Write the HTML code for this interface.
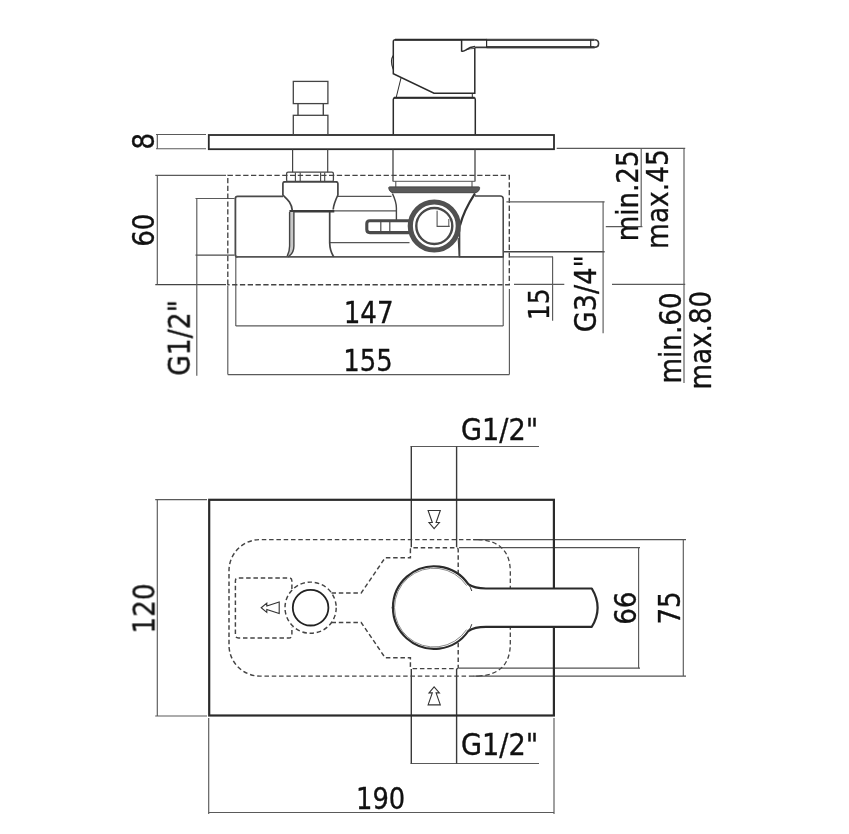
<!DOCTYPE html>
<html lang="en">
<head>
<meta charset="utf-8">
<title>Technical drawing</title>
<style>
html,body{margin:0;padding:0;background:#fff;}
body{width:849px;height:834px;overflow:hidden;}
svg{display:block;}
svg text{font-family:'DejaVu Sans','Liberation Sans',sans-serif;fill:#111;stroke:#111;stroke-width:0.35px;}
.t{opacity:0.999;}
</style>
</head>
<body>
<svg width="849" height="834" viewBox="0 0 849 834">
<rect x="0" y="0" width="849" height="834" fill="#ffffff"/>
<line x1="156" y1="134.5" x2="206" y2="134.5" stroke="#5a5a5a" stroke-width="1.15" />
<line x1="156" y1="148.7" x2="206" y2="148.7" stroke="#5a5a5a" stroke-width="1.15" />
<line x1="157.3" y1="134.5" x2="157.3" y2="148.7" stroke="#5a5a5a" stroke-width="1.15" />
<line x1="155.3" y1="175.3" x2="226" y2="175.3" stroke="#5a5a5a" stroke-width="1.15" />
<line x1="155.3" y1="284.6" x2="226" y2="284.6" stroke="#444" stroke-width="1.2" />
<line x1="157.3" y1="175.3" x2="157.3" y2="284.6" stroke="#5a5a5a" stroke-width="1.15" />
<line x1="195.5" y1="198.5" x2="234.6" y2="198.5" stroke="#5a5a5a" stroke-width="1.15" />
<line x1="195.5" y1="255.2" x2="234.6" y2="255.2" stroke="#4a4a4a" stroke-width="1.3" />
<line x1="196.8" y1="198.5" x2="196.8" y2="375.8" stroke="#5a5a5a" stroke-width="1.15" />
<line x1="235.8" y1="257" x2="235.8" y2="325.9" stroke="#5a5a5a" stroke-width="1.15" />
<line x1="235.8" y1="325.9" x2="503.2" y2="325.9" stroke="#5a5a5a" stroke-width="1.15" />
<line x1="503.2" y1="257" x2="503.2" y2="325.9" stroke="#5a5a5a" stroke-width="1.15" />
<line x1="227.8" y1="286" x2="227.8" y2="374.6" stroke="#5a5a5a" stroke-width="1.15" />
<line x1="227.8" y1="374.6" x2="509.4" y2="374.6" stroke="#5a5a5a" stroke-width="1.15" />
<line x1="509.4" y1="289" x2="509.4" y2="374.6" stroke="#5a5a5a" stroke-width="1.15" />
<path d="M227.8 284.7 V175.3 H509.3 V284.7 Z" stroke="#444" stroke-width="1.35" fill="none" stroke-dasharray="5.3 2.5"/>
<line x1="556.7" y1="148.3" x2="685.2" y2="148.3" stroke="#5a5a5a" stroke-width="1.15" />
<line x1="641.2" y1="148.3" x2="641.2" y2="227" stroke="#5a5a5a" stroke-width="1.15" />
<line x1="684" y1="148.3" x2="684" y2="383" stroke="#5a5a5a" stroke-width="1.15" />
<line x1="605.8" y1="226.6" x2="642.4" y2="226.6" stroke="#5a5a5a" stroke-width="1.15" />
<line x1="506.4" y1="201.8" x2="604.6" y2="201.8" stroke="#5a5a5a" stroke-width="1.15" />
<line x1="504" y1="251.8" x2="604.6" y2="251.8" stroke="#444" stroke-width="1.4" />
<line x1="603.1" y1="201.8" x2="603.1" y2="333.2" stroke="#5a5a5a" stroke-width="1.15" />
<line x1="510" y1="256.8" x2="553" y2="256.8" stroke="#5a5a5a" stroke-width="1.15" />
<line x1="552.6" y1="256.8" x2="552.6" y2="320.7" stroke="#5a5a5a" stroke-width="1.15" />
<line x1="514" y1="284.3" x2="564.3" y2="284.3" stroke="#5a5a5a" stroke-width="1.15" />
<line x1="612" y1="284.3" x2="685.2" y2="284.3" stroke="#5a5a5a" stroke-width="1.15" />
<path d="M283 196.3 H237.6 Q235.4 196.3 235.4 198.5 V254.7 Q235.4 256.9 237.6 256.9" stroke="#4a4a4a" stroke-width="1.8" fill="none" />
<line x1="338" y1="196.3" x2="391.5" y2="196.3" stroke="#555" stroke-width="1.3" />
<line x1="334" y1="210.8" x2="396.4" y2="210.8" stroke="#555" stroke-width="1.3" />
<line x1="330" y1="242.6" x2="409.5" y2="242.6" stroke="#555" stroke-width="1.2" />
<line x1="236" y1="256.9" x2="503.3" y2="256.9" stroke="#555" stroke-width="1.6" />
<rect x="208.8" y="135" width="345.2" height="14.2" rx="0" stroke="#2b2b2b" stroke-width="1.8" fill="none" />
<rect x="293.3" y="81.4" width="34.6" height="22.2" rx="0" stroke="#444" stroke-width="1.3" fill="none" />
<line x1="298.0" y1="103.6" x2="298.0" y2="115.2" stroke="#444" stroke-width="1.4" />
<line x1="323.3" y1="103.6" x2="323.3" y2="115.2" stroke="#444" stroke-width="1.4" />
<rect x="293.3" y="115.3" width="34.6" height="19.5" rx="0" stroke="#444" stroke-width="1.3" fill="none" />
<line x1="292.6" y1="149.5" x2="292.6" y2="172.2" stroke="#444" stroke-width="1.2" />
<line x1="327.7" y1="149.5" x2="327.7" y2="172.2" stroke="#444" stroke-width="1.2" />
<rect x="286.6" y="172.2" width="46.8" height="9.2" rx="1.5" stroke="#444" stroke-width="1.3" fill="none" />
<line x1="295.4" y1="172.4" x2="295.4" y2="181.2" stroke="#444" stroke-width="1.1" />
<line x1="300.2" y1="172.4" x2="300.2" y2="181.2" stroke="#444" stroke-width="1.1" />
<line x1="320.6" y1="172.4" x2="320.6" y2="181.2" stroke="#444" stroke-width="1.1" />
<line x1="324.7" y1="172.4" x2="324.7" y2="181.2" stroke="#444" stroke-width="1.1" />
<path d="M284.4 181.8 Q282.9 181.9 282.9 183.5 V195 C287 199 291.6 202.5 292.3 210.5" stroke="#444" stroke-width="1.7" fill="none" />
<path d="M336.3 181.8 Q337.9 181.9 337.9 183.5 V195 C335.5 200 333.6 204.5 333.2 209.5" stroke="#444" stroke-width="1.7" fill="none" />
<line x1="283.5" y1="181.8" x2="337.3" y2="181.8" stroke="#444" stroke-width="1.7" />
<line x1="289.4" y1="211.2" x2="334.3" y2="211.2" stroke="#3a3a3a" stroke-width="2.6" />
<path d="M289.6 212 V246 C289.6 251 288.5 254 286.8 256.8 L288 256.8 C292 254.5 293.9 251 293.9 246 V212 Z" stroke="none" stroke-width="0" fill="#c8c8c8" />
<path d="M289.6 212 V246 C289.6 251 288.5 254 286.8 256.8" stroke="#444" stroke-width="1.4" fill="none" />
<path d="M293.9 212 V246 C293.9 251 292 254.5 288 256.8" stroke="#444" stroke-width="1.4" fill="none" />
<path d="M329.7 212 V243 C329.9 250 331.5 253.5 333.8 256.8" stroke="#444" stroke-width="1.7" fill="none" />
<path d="M474.8 47.8 V93.2 H434 L393.3 73.8 V41.6 Q393.3 39.7 395.3 39.7 H461.5" stroke="#2b2b2b" stroke-width="1.5" fill="none" />
<path d="M395 39.8 H487" stroke="#2b2b2b" stroke-width="2.0" fill="none" />
<path d="M486.6 39.9 H594.5" stroke="#484848" stroke-width="2.4" fill="none" />
<path d="M486.6 47.1 H594.5" stroke="#484848" stroke-width="2.4" fill="none" />
<path d="M461.6 39.8 V51 Q463.5 51.6 466 49.8 Q470 46.6 475 46.4" stroke="#2b2b2b" stroke-width="1.5" fill="none" />
<path d="M466 49.8 Q470 48.5 474.8 48.4" stroke="#2b2b2b" stroke-width="0.8" fill="none" />
<path d="M474.8 47.4 H594.5 Q598.6 47.4 598.6 43.6 Q598.6 39.8 594.5 39.8" stroke="#3a3a3a" stroke-width="1.6" fill="none" />
<line x1="486.6" y1="39.8" x2="486.6" y2="47.4" stroke="#2b2b2b" stroke-width="1.2" />
<line x1="590.7" y1="39.8" x2="590.7" y2="47.4" stroke="#2b2b2b" stroke-width="1.2" />
<path d="M393.2 55.6 Q389.6 60.5 393.2 69.2" stroke="#2b2b2b" stroke-width="1.1" fill="none" />
<line x1="401" y1="78" x2="396.3" y2="97" stroke="#2b2b2b" stroke-width="1.0" />
<line x1="472.3" y1="93.2" x2="472.3" y2="97.5" stroke="#2b2b2b" stroke-width="1.0" />
<path d="M393.3 134.5 V99.5 Q393.3 97.8 395 97.8 H473.6 Q475.3 97.8 475.3 99.5 V134.5" stroke="#2b2b2b" stroke-width="1.5" fill="none" />
<line x1="394" y1="97.8" x2="474.6" y2="97.8" stroke="#2b2b2b" stroke-width="2.0" />
<line x1="393.0" y1="149.6" x2="393.0" y2="181.4" stroke="#444" stroke-width="1.3" />
<line x1="475.0" y1="149.6" x2="475.0" y2="181.4" stroke="#444" stroke-width="1.3" />
<line x1="393.0" y1="181.4" x2="475.0" y2="181.4" stroke="#777" stroke-width="1.2" />
<line x1="395.8" y1="181.4" x2="395.8" y2="187" stroke="#444" stroke-width="1.0" />
<line x1="472.0" y1="181.4" x2="472.0" y2="187" stroke="#444" stroke-width="1.0" />
<path d="M389.6 186.9 H478.8 Q480 186.9 479.6 188.4 Q478.6 192.7 474.6 192.7 H393.6 Q389.8 192.7 388.8 188.4 Q388.4 186.9 389.6 186.9 Z" stroke="#444" stroke-width="1.0" fill="#5a5a5a" />
<path d="M392.4 193.5 C394.5 198 396.4 202 396.4 208 V220" stroke="#444" stroke-width="1.4" fill="none" />
<path d="M475 193.3 Q463.5 211 460 225.5" stroke="#333" stroke-width="2.2" fill="none" />
<path d="M409.5 220.8 H369.8 Q366.8 220.8 366.8 223.8 V229.6 Q366.8 232.6 369.8 232.6 H409.5" stroke="#4a4a4a" stroke-width="3.1" fill="none" />
<line x1="380.8" y1="220.5" x2="380.8" y2="233" stroke="#4a4a4a" stroke-width="1.2" />
<line x1="389.8" y1="220.5" x2="389.8" y2="233" stroke="#4a4a4a" stroke-width="1.2" />
<path d="M475 195.9 H500.2 Q503.2 195.9 503.2 198.9 V256.7 H459.6 V225.5" stroke="#444" stroke-width="1.5" fill="none" />
<line x1="458.2" y1="238" x2="459.2" y2="256.5" stroke="#444" stroke-width="1.2" />
<circle cx="434.3" cy="226" r="24.0" stroke="#505050" stroke-width="5.2" fill="#fff" />
<circle cx="434.3" cy="226" r="18.0" stroke="#484848" stroke-width="2.4" fill="none" />
<path d="M437.1 210.8 V226.4 H449.7" stroke="#555" stroke-width="1.1" fill="none" />
<line x1="448.8" y1="219" x2="448.8" y2="226.4" stroke="#555" stroke-width="1.0" />
<line x1="155.2" y1="499.6" x2="207" y2="499.6" stroke="#5a5a5a" stroke-width="1.15" />
<line x1="155.2" y1="716.0" x2="207" y2="716.0" stroke="#5a5a5a" stroke-width="1.15" />
<line x1="157.3" y1="499.6" x2="157.3" y2="716.0" stroke="#5a5a5a" stroke-width="1.15" />
<line x1="208.7" y1="718" x2="208.7" y2="814" stroke="#5a5a5a" stroke-width="1.15" />
<line x1="554" y1="718" x2="554" y2="814" stroke="#5a5a5a" stroke-width="1.15" />
<line x1="208.7" y1="812.5" x2="554" y2="812.5" stroke="#5a5a5a" stroke-width="1.15" />
<line x1="410.5" y1="446.5" x2="539" y2="446.5" stroke="#5a5a5a" stroke-width="1.15" />
<line x1="410.5" y1="763.5" x2="539" y2="763.5" stroke="#5a5a5a" stroke-width="1.15" />
<line x1="411.3" y1="446.5" x2="411.3" y2="547.2" stroke="#3a3a3a" stroke-width="1.4" />
<line x1="411.3" y1="669" x2="411.3" y2="763.5" stroke="#3a3a3a" stroke-width="1.4" />
<line x1="456.6" y1="446.5" x2="456.6" y2="547.2" stroke="#3a3a3a" stroke-width="1.4" />
<line x1="456.6" y1="669" x2="456.6" y2="763.5" stroke="#3a3a3a" stroke-width="1.4" />
<line x1="473" y1="539.6" x2="686" y2="539.6" stroke="#525252" stroke-width="1.25" />
<line x1="473" y1="676.1" x2="686" y2="676.1" stroke="#525252" stroke-width="1.25" />
<line x1="459" y1="547.5" x2="640" y2="547.5" stroke="#525252" stroke-width="1.25" />
<line x1="459" y1="668.2" x2="640" y2="668.2" stroke="#525252" stroke-width="1.25" />
<line x1="638.6" y1="547.3" x2="638.6" y2="668.2" stroke="#5a5a5a" stroke-width="1.15" />
<line x1="683.3" y1="539.6" x2="683.3" y2="676.1" stroke="#5a5a5a" stroke-width="1.15" />
<rect x="209.2" y="499.8" width="344.7" height="215.7" rx="0" stroke="#2a2a2a" stroke-width="2.2" fill="none" />
<path d="M478 539.6 H260 A31 31 0 0 0 229 570.6 V645.1 A31 31 0 0 0 260 676.1 H478" stroke="#444" stroke-width="1.45" fill="none" stroke-dasharray="4.5 2.8"/>
<path d="M478 539.6 Q510.3 541 510.3 572 V590" stroke="#444" stroke-width="1.3" fill="none" stroke-dasharray="4.5 2.8"/>
<path d="M478 676.1 Q510.3 674.5 510.3 643.5 V626" stroke="#444" stroke-width="1.3" fill="none" stroke-dasharray="4.5 2.8"/>
<path d="M291.9 589 V580.9 Q291.9 577.9 288.9 577.9 H238.4 Q235.4 577.9 235.4 580.9 V634.9 Q235.4 637.9 238.4 637.9 H288.9 Q291.9 637.9 291.9 634.9 V627" stroke="#444" stroke-width="1.45" fill="none" stroke-dasharray="4.5 2.8"/>
<circle cx="310.6" cy="607.7" r="25.6" stroke="#444" stroke-width="1.45" fill="none" stroke-dasharray="4.5 2.8"/>
<circle cx="310.6" cy="607.7" r="17.8" stroke="#222" stroke-width="1.8" fill="none" />
<path d="M331.5 593 H361.2 L385.1 557.8 H410.4 V549.7 Q410.4 547.7 412.4 547.7 H456.2 Q458.2 547.7 458.2 549.7 V668.6" stroke="#444" stroke-width="1.45" fill="none" stroke-dasharray="4.5 2.8"/>
<path d="M331.5 622.5 H361.2 L385.1 657.7 H410.4 V666.6 Q410.4 668.6 412.4 668.6 H458.2" stroke="#444" stroke-width="1.45" fill="none" stroke-dasharray="4.5 2.8"/>
<path d="M591.8 588.5 H486 C478 588.5 473 587.6 468.3 584.2 A41.3 41.3 0 1 0 468.3 631.0 C473 627.7 478 626.8 486 626.8 H591.8 Q603.4 607.7 591.8 588.5 Z" stroke="#2a2a2a" stroke-width="2.2" fill="#fff" stroke-linejoin="round"/>
<path d="M466.6 585.6 A39.4 39.4 0 1 0 466.6 629.6" stroke="#8a8a8a" stroke-width="1.0" fill="none" />
<path d="M468.3 584.2 Q470.6 587 471.8 591" stroke="#333" stroke-width="1.0" fill="none" />
<path d="M468.3 631.0 Q470.6 628.2 471.8 624.2" stroke="#333" stroke-width="1.0" fill="none" />
<path d="M393.2 603.5 Q391.2 607.7 393.2 611.9" stroke="#333" stroke-width="1.0" fill="none" />
<path d="M261.2 607.7 L266.8 603.1 V605.9 L279.2 602.0 V613.4 L266.8 609.5 V612.3 Z" stroke="#333" stroke-width="1.1" fill="none" />
<path d="M434.1 528.6 L429 522.5 H432.3 L428.1 510.5 H440.3 L436.1 522.5 H439.4 Z" stroke="#333" stroke-width="1.1" fill="none" />
<path d="M434.1 686.8 L429 692.9 H432.3 L428.1 704.9 H440.3 L436.1 692.9 H439.4 Z" stroke="#333" stroke-width="1.1" fill="none" />
<g class="t">
<text transform="translate(153.8 149.6) rotate(-90) scale(0.8586 1)" font-size="30.5" text-anchor="start">8</text>
<text transform="translate(153.8 246.8) rotate(-90) scale(0.8586 1)" font-size="30.5" text-anchor="start">60</text>
<text transform="translate(189.7 375.9) rotate(-90) scale(0.8764 1)" font-size="30.5" text-anchor="start">G1/2"</text>
<text transform="translate(343.7 323.0) scale(0.8586 1)" font-size="30.5" text-anchor="start">147</text>
<text transform="translate(343.3 370.7) scale(0.8505 1)" font-size="30.5" text-anchor="start">155</text>
<text transform="translate(549.2 320.0) rotate(-90) scale(0.8586 1)" font-size="29" text-anchor="start">15</text>
<text transform="translate(595.8 332.2) rotate(-90) scale(0.8902 1)" font-size="30.5" text-anchor="start">G3/4"</text>
<text transform="translate(638.0 241.3) rotate(-90) scale(0.8586 1)" font-size="30.5" text-anchor="start">min.25</text>
<text transform="translate(668.4 248.9) rotate(-90) scale(0.8685 1)" font-size="30.5" text-anchor="start">max.45</text>
<text transform="translate(680.5 383.4) rotate(-90) scale(0.8586 1)" font-size="30.5" text-anchor="start">min.60</text>
<text transform="translate(710.6 389.4) rotate(-90) scale(0.8586 1)" font-size="30.5" text-anchor="start">max.80</text>
<text transform="translate(461 439.7) scale(0.8902 1)" font-size="30.5" text-anchor="start">G1/2"</text>
<text transform="translate(461 754.7) scale(0.8902 1)" font-size="30.5" text-anchor="start">G1/2"</text>
<text transform="translate(356 808.9) scale(0.846 1)" font-size="30.5" text-anchor="start">190</text>
<text transform="translate(154.5 633.5) rotate(-90) scale(0.8586 1)" font-size="30.5" text-anchor="start">120</text>
<text transform="translate(635.5 624.8) rotate(-90) scale(0.8586 1)" font-size="30.5" text-anchor="start">66</text>
<text transform="translate(680.4 624.6) rotate(-90) scale(0.8586 1)" font-size="30.5" text-anchor="start">75</text>
</g>
</svg>
</body>
</html>
